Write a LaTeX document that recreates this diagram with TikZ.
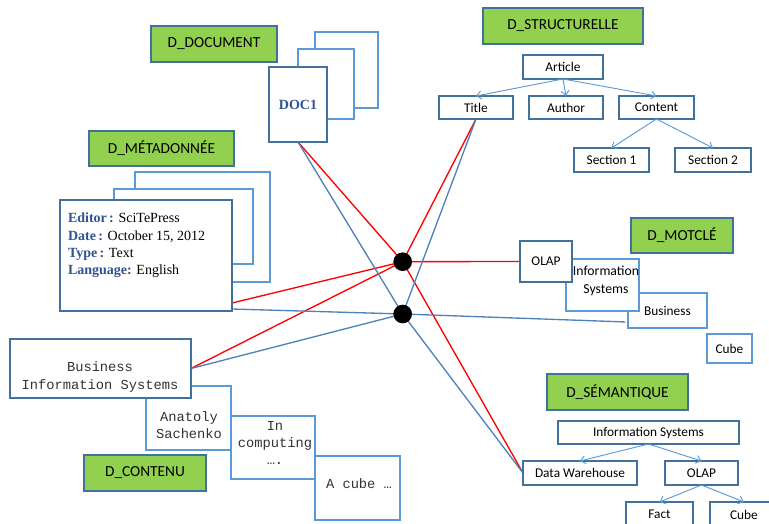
\documentclass[tikz,border=0pt]{standalone}
\usepackage{fontspec}
\setmainfont{Carlito}
\newfontfamily\serifface{Liberation Serif}
\newfontfamily\monoface{Liberation Mono}
\usetikzlibrary{arrows.meta,backgrounds}
\definecolor{edgedark}{RGB}{65,113,156}
\definecolor{edgelight}{RGB}{91,155,213}
\definecolor{linkblue}{RGB}{79,129,189}
\definecolor{labelgreen}{RGB}{146,208,80}
\definecolor{metablue}{RGB}{47,84,150}
\newcommand\metakey[1]{{\bfseries\color{metablue}#1}}

\begin{document}
\begin{tikzpicture}[x=0.75pt,y=-0.75pt,
  every node/.style={inner sep=0pt, outer sep=0pt},
  % a rectangle given by its corners (x1,y1) and (x2,y2)
  span/.style n args={4}{at={({(#1+#3)/2},{(#2+#4)/2})},
    minimum width={0.75pt*(#3-#1)}, minimum height={0.75pt*(#4-#2)}},
  dimlabel/.style={draw=edgedark, line width=1.5pt, fill=labelgreen,
    font=\fontsize{11.5}{14}\selectfont},
  darkbox/.style={draw=edgedark, line width=1.5pt, fill=white,
    font=\fontsize{10}{13.5}\selectfont},
  lightbox/.style={draw=edgelight, line width=0.8pt, fill=white,
    font=\fontsize{10}{13.5}\selectfont},
  sanstext/.style={font=\fontsize{10.3}{13.5}\selectfont, align=center},
  monotext/.style={font=\monoface\fontsize{10.3}{13}\selectfont, text=black!80, align=center},
  hub/.style={circle, fill=black, minimum size=14pt},
  redlink/.style={draw=red, line width=1pt},
  bluelink/.style={draw=linkblue, line width=1pt},
  treearrow/.style={draw=edgelight, line width=0.7pt, -{Straight Barb[length=3.5pt,width=6pt]}}
]
\useasboundingbox (0,0) rectangle (769,524);
\clip (0,0) rectangle (769,524);

% dimension labels
\node[dimlabel, span={151}{26}{277}{62}] (ldoc) {D\_DOCUMENT};
\node[dimlabel, span={89}{131}{234}{166}] (lmeta) {D\_MÉTADONNÉE};
\node[dimlabel, span={483}{8}{643}{44}] (lstruct) {D\_STRUCTURELLE};
\node[dimlabel, span={631}{218}{733}{253}] (lmot) {D\_MOTCLÉ};
\node[dimlabel, span={547}{374}{688}{410}] (lsem) {D\_SÉMANTIQUE};
\node[dimlabel, span={84}{455}{206}{491}] (lcont) {D\_CONTENU};

% document stack
\node[lightbox, span={315}{32}{378}{108}] (doc3) {};
\node[lightbox, span={298}{49}{354}{119}] (doc2) {};
\node[darkbox, span={269}{67}{327}{142}, text=metablue,
  font=\serifface\bfseries\fontsize{10.5}{12}\selectfont] (doc1) {DOC1};

% metadata stack
\node[lightbox, span={135}{172}{270}{282}] (meta3) {};
\node[lightbox, span={114}{189}{253}{264}] (meta2) {};
\node[darkbox, span={60}{200}{232}{311}] (meta1) {};
\node[anchor=north west, align=left, font=\serifface\fontsize{10.5}{13}\selectfont]
  (metatext) at (68,213)
  {\metakey{Editor\,:} SciTePress\\
   \metakey{Date\,:} October 15, 2012\\
   \metakey{Type\,:} Text\\
   \metakey{Language:} English};

% structure tree
\node[darkbox, span={523}{55}{603}{79}] (article) {Article};
\node[darkbox, span={439}{96}{513}{119}] (title) {Title};
\node[darkbox, span={529}{96}{603}{119}] (author) {Author};
\node[darkbox, span={619}{96}{694}{119}] (content) {Content};
\node[darkbox, span={574}{148}{649}{172}] (sec1) {Section 1};
\node[darkbox, span={675}{148}{751}{172}] (sec2) {Section 2};
\draw[treearrow] (article.south) -- (title.north);
\draw[treearrow] (article.south) -- (author.north);
\draw[treearrow] (article.south) -- (content.north);
\draw[treearrow] (content.south) -- (sec1.north);
\draw[treearrow] (content.south) -- (sec2.north);

% keyword stack
\node[lightbox, span={707}{334}{752}{363}] (kwcube) {Cube};
\node[lightbox, span={628}{293}{707}{328}] (kwbus) {Business};
\node[lightbox, span={566}{259}{639}{311}] (kwinfo) {};
\node[sanstext] (kwinfotext) at (606,281) {Information\\Systems};
\node[darkbox, span={520}{241}{572}{282}] (kwolap) {OLAP};

% semantic tree
\node[darkbox, span={558}{421}{739}{444}] (semis) {Information Systems};
\node[darkbox, span={523}{461}{637}{485}] (dw) {Data Warehouse};
\node[darkbox, span={665}{461}{738}{485}] (semolap) {OLAP};
\node[darkbox, span={626}{502}{693}{527}] (fact) {Fact};
\node[darkbox, span={710}{502}{778}{527}] (semcube) {Cube};
\draw[treearrow] (semis.south) -- (dw.north);
\draw[treearrow] (semis.south) -- (semolap.north);
\draw[treearrow] (semolap.south) -- (fact.north);
\draw[treearrow] (semolap.south) -- (semcube.north);

% content stack
\node[lightbox, span={315}{456}{400}{520}] (ccube) {};
\node[monotext] (ccubetext) at (359,484) {A cube …};
\node[lightbox, span={231}{416}{315}{479}] (ccomp) {};
\node[monotext] (ccomptext) at (275,443) {In\\computing\\….};
\node[lightbox, span={146}{386}{231}{450}] (canat) {};
\node[monotext] (canattext) at (189,425) {Anatoly\\Sachenko};
\node[darkbox, span={10}{339}{191}{398}] (cbis) {};
\node[monotext] (cbistext) at (100,377) {Business\\Information Systems};

% hubs joining the dimensions
\node[hub] (hub1) at (402.7,261.7) {};
\node[hub] (hub2) at (402.7,314) {};

\begin{scope}[on background layer]
  \draw[redlink] (hub1.center) -- (doc1.south);
  \draw[redlink] (hub1.center) -- (title.south);
  \draw[redlink] (hub1.center) -- (kwolap.west);
  \draw[redlink] (hub1.center) -- ([yshift=6pt]meta1.south east);
  \draw[redlink] (hub1.center) -- (cbis.east);
  \draw[redlink] (hub1.center) -- (dw.west);
  \draw[bluelink] (hub2.center) -- (doc1.south);
  \draw[bluelink] (hub2.center) -- (title.south);
  \draw[bluelink] (hub2.center) -- ([yshift=-8.6pt,xshift=-2pt]kwbus.west);
  \draw[bluelink] (hub2.center) -- ([yshift=1.5pt]meta1.south east);
  \draw[bluelink] (hub2.center) -- (cbis.east);
  \draw[bluelink] (hub2.center) -- (dw.west);
\end{scope}
\end{tikzpicture}
\end{document}
